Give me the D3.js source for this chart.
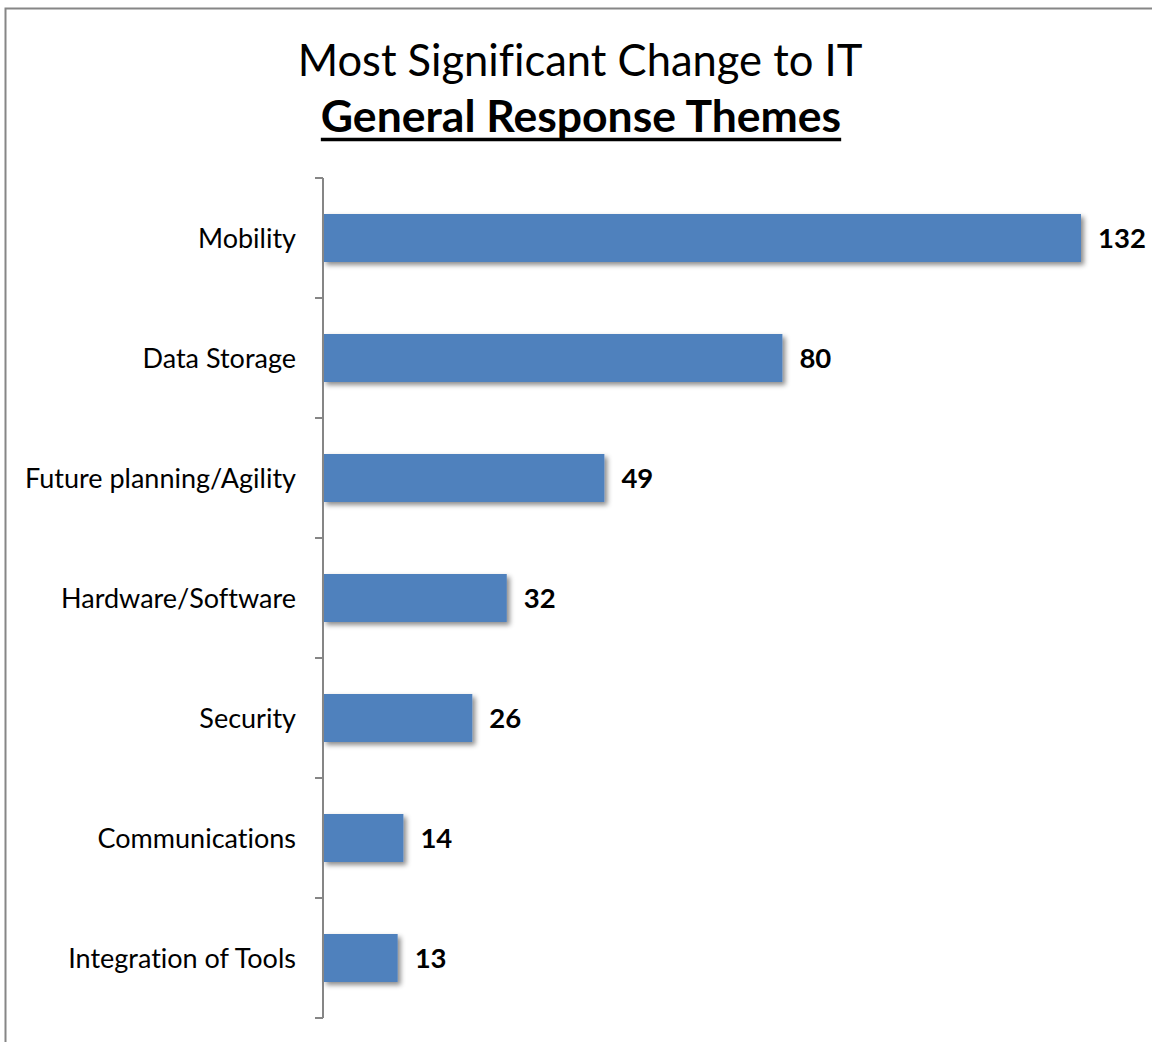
<!DOCTYPE html>
<html>
<head>
<meta charset="utf-8">
<script src="https://cdn.jsdelivr.net/npm/d3@7"></script>
<style>
  body { margin: 0; background: #fff; }
  svg { display: block; }
  text { font-variant-ligatures: none; }
</style>
</head>
<body>
<div id="chart"></div>
<script>
const categories = ["Mobility", "Data Storage", "Future planning/Agility", "Hardware/Software",
    "Security", "Communications", "Integration of Tools"];
const values = [132, 80, 49, 32, 26, 14, 13];
const titleLine1 = "Most Significant Change to IT";
const titleLine2 = "General Response Themes";

const W = 1152, H = 1042;
const margin = { top: 178, left: 323 };
const font = "Lato, 'Open Sans', sans-serif";

const svg = d3.select("#chart").append("svg")
    .attr("width", W)
    .attr("height", H);

// drop shadow like the office chart
const defs = svg.append("defs");
const f = defs.append("filter").attr("id", "shadow")
    .attr("x", "-5%").attr("y", "-20%").attr("width", "115%").attr("height", "160%");
f.append("feDropShadow")
    .attr("dx", 3).attr("dy", 3).attr("stdDeviation", 2.5)
    .attr("flood-color", "#000").attr("flood-opacity", 0.45);

// outer frame
svg.append("rect")
    .attr("x", 5.5).attr("y", 8.5)
    .attr("width", W + 10).attr("height", H + 10)
    .attr("fill", "#fff")
    .attr("stroke", "#868686")
    .attr("stroke-width", 2);

// titles
svg.append("text")
    .attr("x", 580).attr("y", 76)
    .attr("text-anchor", "middle")
    .style("font-family", font)
    .style("font-size", "43.5px")
    .attr("fill", "#000")
    .text(titleLine1);

const t2 = svg.append("text")
    .attr("x", 581).attr("y", 132)
    .attr("text-anchor", "middle")
    .style("font-family", font)
    .style("font-size", "44.5px")
    .style("font-weight", "bold")
    .attr("fill", "#000")
    .text(titleLine2);

// underline drawn by hand so it's thick like the original
const tw = t2.node().getComputedTextLength();
svg.append("line")
    .attr("x1", 581 - tw / 2).attr("x2", 581 + tw / 2)
    .attr("y1", 139.5).attr("y2", 139.5)
    .attr("stroke", "#000").attr("stroke-width", 3.5);

const y = d3.scaleBand()
    .domain(categories)
    .range([margin.top, margin.top + 120 * categories.length])
    .paddingInner(0.6)
    .paddingOuter(0.3);

const x = d3.scaleLinear()
    .domain([0, 132])
    .range([margin.left, 1081]);

const data = categories.map((c, i) => ({ cat: c, val: values[i] }));

// bars
svg.append("g").selectAll("rect")
    .data(data)
    .enter()
    .append("rect")
    .attr("x", x(0))
    .attr("y", d => y(d.cat))
    .attr("width", d => x(d.val) - x(0))
    .attr("height", y.bandwidth())
    .attr("fill", "#4F81BD")
    .attr("filter", "url(#shadow)");

// value labels
svg.append("g").selectAll("text")
    .data(data)
    .enter()
    .append("text")
    .attr("x", d => x(d.val) + 17)
    .attr("y", d => y(d.cat) + y.bandwidth() / 2)
    .attr("dy", "0.36em")
    .style("font-family", font)
    .style("font-size", "27.5px")
    .style("font-weight", "bold")
    .attr("fill", "#000")
    .text(d => d.val);

// category axis, ticks at band boundaries
const boundaries = d3.range(categories.length + 1).map(i => margin.top + i * y.step());
const axis = svg.append("g");
axis.append("line")
    .attr("x1", margin.left).attr("x2", margin.left)
    .attr("y1", boundaries[0]).attr("y2", boundaries[boundaries.length - 1])
    .attr("stroke", "#868686").attr("stroke-width", 2);
axis.selectAll(".tk")
    .data(boundaries)
    .enter()
    .append("line")
    .attr("x1", margin.left - 8).attr("x2", margin.left)
    .attr("y1", d => d).attr("y2", d => d)
    .attr("stroke", "#868686").attr("stroke-width", 2);

axis.selectAll("text")
    .data(categories)
    .enter()
    .append("text")
    .attr("x", 296)
    .attr("y", d => y(d) + y.bandwidth() / 2)
    .attr("dy", "0.36em")
    .attr("text-anchor", "end")
    .style("font-family", font)
    .style("font-size", "27px")
    .attr("fill", "#000")
    .text(d => d);
</script>
</body>
</html>
